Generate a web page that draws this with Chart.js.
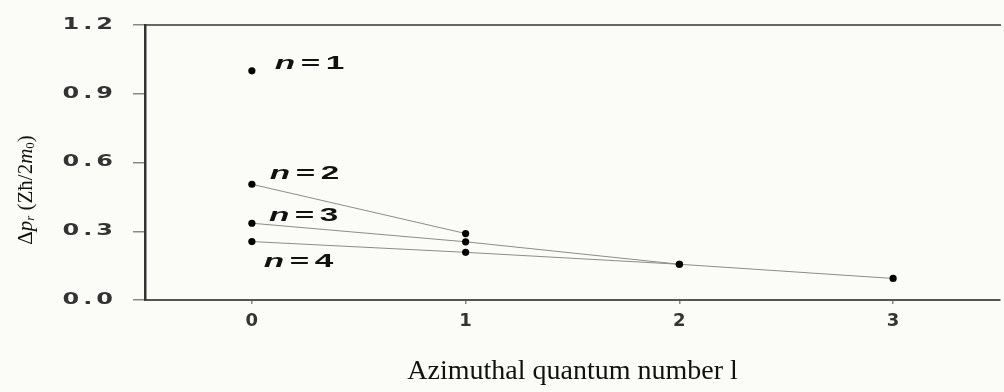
<!DOCTYPE html>
<html>
<head>
<meta charset="utf-8">
<script src="https://cdn.jsdelivr.net/npm/chart.js@4"></script>
<style>
  html, body { margin: 0; padding: 0; background: #fbfcf7; }
  #canvas { display: block; }
</style>
</head>
<body>
<canvas id="canvas" width="1004" height="392"></canvas>
<script>
// azimuthal quantum number l on x, delta p_r on y
const lValues = [0, 1, 2, 3];
const n1 = [1.0];
const n2 = [0.505, 0.29];
const n3 = [0.335, 0.254, 0.156];
const n4 = [0.255, 0.208, 0.156, 0.094];
const yTicks = [0, 0.3, 0.6, 0.9, 1.2];
const seriesNames = ['n=1', 'n=2', 'n=3', 'n=4'];

// where the n= labels sit, in data units (l, delta p_r)
const labelL = [0.107, 0.084, 0.08, 0.056];
const labelV = [1.03, 0.55, 0.368, 0.165];

// y title pieces: text, italic, subscript
const yTitle = [
  ['Δ', false, false], ['p', true, false], ['r', true, true],
  [' (Zħ/2', false, false], ['m', true, false], ['0', false, true], [')', false, false]
];

function toPoints(vals) {
  return vals.map((v, i) => ({x: lValues[i], y: v}));
}

const bg = {
  id: 'bg',
  beforeDraw(chart) {
    const ctx = chart.ctx;
    ctx.save();
    ctx.fillStyle = '#fbfcf7';
    ctx.fillRect(0, 0, chart.width, chart.height);
    ctx.restore();
  }
};

function drawYTitle(chart) {
  const ctx = chart.ctx;
  const area = chart.chartArea;
  const size = 21;
  const fontOf = (it, sub) => (it ? 'italic ' : '') + (sub ? size * 0.62 : size) + 'px "Liberation Serif"';
  let total = 0;
  yTitle.forEach(([t, it, sub]) => { ctx.font = fontOf(it, sub); total += ctx.measureText(t).width; });
  ctx.save();
  ctx.translate(26, area.top + (area.bottom - area.top) * 0.6);
  ctx.rotate(-Math.PI / 2);
  ctx.fillStyle = '#111';
  ctx.textBaseline = 'middle';
  let x = -total / 2;
  yTitle.forEach(([t, it, sub]) => {
    ctx.font = fontOf(it, sub);
    ctx.fillText(t, x, sub ? 5 : 0);
    x += ctx.measureText(t).width;
  });
  ctx.restore();
}

const nLabels = {
  id: 'nLabels',
  afterDatasetsDraw(chart) {
    const {ctx, scales: {x, y}} = chart;
    drawYTitle(chart);
    seriesNames.forEach((name, i) => {
      const px = x.getPixelForValue(labelL[i]);
      const py = y.getPixelForValue(labelV[i]);
      ctx.save();
      ctx.translate(px, py);
      ctx.scale(1.85, 1);
      ctx.fillStyle = '#111';
      ctx.textBaseline = 'middle';
      ctx.letterSpacing = '3px';
      ctx.font = 'italic bold 18px "Liberation Sans"';
      ctx.fillText(name[0], 0, 0);
      const w = ctx.measureText(name[0]).width;
      ctx.font = 'bold 18px "Liberation Sans"';
      ctx.fillText(name.slice(1), w, 0);
      ctx.restore();
    });
    // y tick labels come after this (ticks z: 1): stretch them wide like the original
    const r = y.right - 12 - 16;
    ctx.save();
    ctx.translate(r, 0);
    ctx.scale(1.6, 1);
    ctx.translate(-r, 0);
    ctx.letterSpacing = '2.5px';
  },
  afterDraw(chart) {
    chart.ctx.restore();
  }
};

let chart = new Chart(document.getElementById('canvas'), {
  type: 'scatter',
  data: {
    datasets: [n1, n2, n3, n4].map((vals, i) => ({
      label: seriesNames[i],
      data: toPoints(vals),
      showLine: i > 0,
      borderColor: '#8c8c8c',
      borderWidth: 1,
      pointRadius: 3.6,
      pointBackgroundColor: '#000',
      pointBorderWidth: 0
    }))
  },
  options: {
    responsive: false,
    animation: false,
    devicePixelRatio: 1,
    layout: { padding: 0 },
    plugins: {
      legend: { display: false },
      tooltip: { enabled: false }
    },
    scales: {
      x: {
        type: 'linear',
        position: 'bottom',
        min: -0.5,
        max: 3.5,
        afterBuildTicks: (s) => { s.ticks = lValues.map(v => ({value: v})); },
        afterFit: (s) => { s.height = 92; },
        grid: { drawOnChartArea: false, tickLength: 4, color: '#888', lineWidth: 1.5 },
        border: { color: '#555', width: 2 },
        ticks: {
          padding: 7,
          color: '#333',
          font: { family: 'DejaVu Sans', size: 18, weight: 'bold' }
        },
        title: {
          display: true,
          text: 'Azimuthal quantum number l',
          color: '#111',
          font: { family: 'Liberation Serif', size: 28 },
          padding: { top: 0, bottom: 4 }
        }
      },
      x2: {
        type: 'linear',
        position: 'top',
        afterFit: (s) => { s.height = 23; },
        grid: { display: false },
        border: { color: '#666', width: 2 },
        ticks: { display: false }
      },
      y: {
        min: 0,
        max: 1.2,
        afterBuildTicks: (s) => { s.ticks = yTicks.map(v => ({value: v})); },
        afterFit: (s) => { s.width = 145; },
        grid: { drawOnChartArea: false, tickLength: 12, color: '#888', lineWidth: 1.5 },
        border: { color: '#333', width: 2.5 },
        ticks: {
          z: 1,
          padding: 16,
          color: '#333',
          font: { family: 'DejaVu Sans', size: 15, weight: 'bold' },
          callback: (v) => Number(v).toFixed(1)
        },
        title: { display: false }
      }
    }
  },
  plugins: [bg, nLabels]
});
</script>
</body>
</html>
